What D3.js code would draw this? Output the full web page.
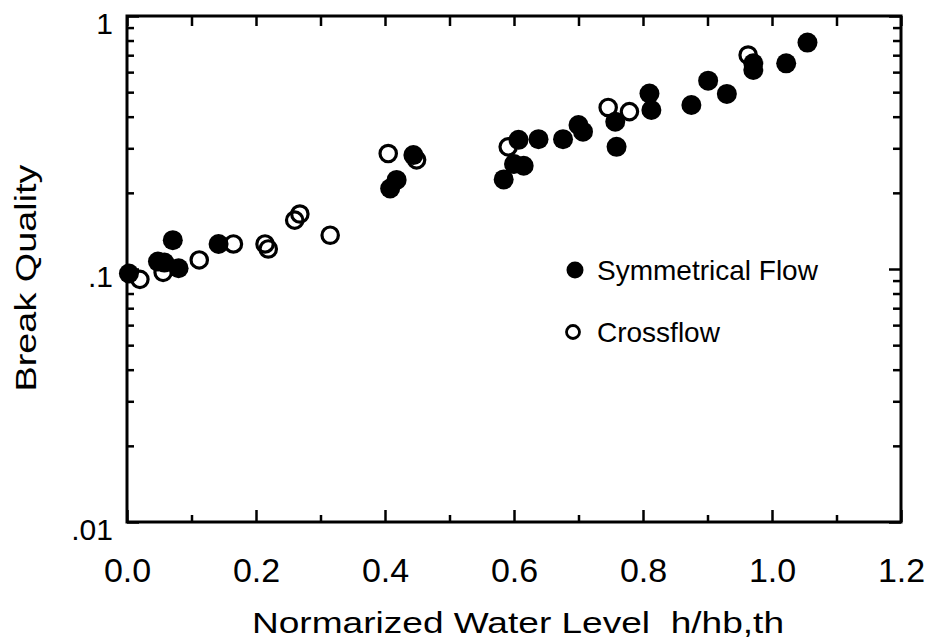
<!DOCTYPE html>
<html>
<head>
<meta charset="utf-8">
<script src="https://cdn.jsdelivr.net/npm/d3@7"></script>
<style>
  body { margin: 0; background: #fff; }
  svg { display: block; }
  text { font-family: "Liberation Sans", Arial, Helvetica, sans-serif; fill: #000; }
</style>
</head>
<body>
<div id="chart"></div>
<script>
// symmetrical flow (filled dots)
const symX = [0.003, 0.048, 0.058, 0.071, 0.080, 0.142, 0.408, 0.418, 0.444, 0.584, 0.600, 0.615,
              0.607, 0.638, 0.676, 0.700, 0.707, 0.757, 0.759, 0.810, 0.813, 0.875, 0.901, 0.930,
              0.971, 0.971, 1.022, 1.055];
const symY = [0.096, 0.107, 0.106, 0.130, 0.1007, 0.1256, 0.208, 0.225, 0.282, 0.226, 0.260, 0.256,
              0.324, 0.326, 0.326, 0.371, 0.349, 0.382, 0.304, 0.494, 0.425, 0.445, 0.555, 0.492,
              0.650, 0.612, 0.650, 0.785];

// crossflow (open dots)
const crossX = [0.020, 0.056, 0.112, 0.165, 0.214, 0.219, 0.260, 0.268, 0.315, 0.405, 0.449, 0.591,
                0.746, 0.779, 0.963];
const crossY = [0.091, 0.097, 0.1086, 0.1256, 0.1256, 0.120, 0.156, 0.165, 0.136, 0.286, 0.270, 0.304,
                0.435, 0.419, 0.701];

const xTicks = [0, 0.2, 0.4, 0.6, 0.8, 1.0, 1.2];
const xMinor = [0.1, 0.3, 0.5, 0.7, 0.9, 1.1];
const yTicks = [0.01, 0.1, 1];
const yTickLabels = ['.01', '.1', '1'];
const legendNames = ['Symmetrical Flow', 'Crossflow'];

const width = 927, height = 644;
const margin = { top: 16, left: 127, right: 26, bottom: 122 };

const svg = d3.select('#chart').append('svg')
  .attr('width', width)
  .attr('height', height);

const x = d3.scaleLinear()
  .domain([0, 1.2])
  .range([margin.left, width - margin.right]);

const y = d3.scaleLog()
  .domain([0.01, 1])
  .range([height - margin.bottom, margin.top]);

//minor ticks for log axis: 2..9 of each decade
const yMinor = [];
[0.01, 0.1].forEach(d => { for (let k = 2; k <= 9; k++) yMinor.push(d * k); });

function styleAxis(g){
  g.select('.domain').remove();
  g.selectAll('.tick line').attr('stroke', '#000').attr('stroke-width', 2.5);
}

//bottom axis with labels
svg.append('g')
  .attr('transform', `translate(0,${height - margin.bottom})`)
  .call(d3.axisBottom(x).tickValues(xTicks).tickSize(-12).tickPadding(36)
    .tickFormat(d3.format('.1f')))
  .call(styleAxis)
  .selectAll('text')
  .attr('font-size', 34)
  .attr('font-family', '"Liberation Sans", Arial, sans-serif');

svg.append('g')
  .attr('transform', `translate(0,${height - margin.bottom})`)
  .call(d3.axisBottom(x).tickValues(xMinor).tickSize(-7).tickFormat(''))
  .call(styleAxis);

//top axis
svg.append('g')
  .attr('transform', `translate(0,${margin.top})`)
  .call(d3.axisTop(x).tickValues(xTicks.concat(xMinor)).tickSize(-10).tickFormat(''))
  .call(styleAxis);

//left axis with labels (labels sit a little below their tick, as in the scan)
svg.append('g')
  .attr('transform', `translate(${margin.left},0)`)
  .call(d3.axisLeft(y).tickValues(yTicks).tickSize(-12).tickPadding(14)
    .tickFormat((d, i) => yTickLabels[i]))
  .call(styleAxis)
  .selectAll('text')
  .attr('y', 8)
  .attr('font-size', 30)
  .attr('font-family', '"Liberation Sans", Arial, sans-serif');

svg.append('g')
  .attr('transform', `translate(${margin.left},0)`)
  .call(d3.axisLeft(y).tickValues(yMinor).tickSize(-7).tickFormat(''))
  .call(styleAxis);

//right axis
svg.append('g')
  .attr('transform', `translate(${width - margin.right},0)`)
  .call(d3.axisRight(y).tickValues(yTicks).tickSize(-12).tickFormat(''))
  .call(styleAxis);

svg.append('g')
  .attr('transform', `translate(${width - margin.right},0)`)
  .call(d3.axisRight(y).tickValues(yMinor).tickSize(-8).tickFormat(''))
  .call(styleAxis);

//frame
svg.append('rect')
  .attr('x', margin.left)
  .attr('y', margin.top)
  .attr('width', width - margin.left - margin.right)
  .attr('height', height - margin.top - margin.bottom)
  .attr('fill', 'none')
  .attr('stroke', '#000')
  .attr('stroke-width', 3);

//crossflow points
svg.append('g').selectAll('circle')
  .data(crossX.map((d, i) => ({ x: d, y: crossY[i] })))
  .join('circle')
  .attr('cx', d => x(d.x))
  .attr('cy', d => y(d.y))
  .attr('r', 8.2)
  .attr('fill', 'none')
  .attr('stroke', '#000')
  .attr('stroke-width', 3.2);

//symmetrical flow points
svg.append('g').selectAll('circle')
  .data(symX.map((d, i) => ({ x: d, y: symY[i] })))
  .join('circle')
  .attr('cx', d => x(d.x))
  .attr('cy', d => y(d.y))
  .attr('r', 10)
  .attr('fill', '#000');

//legend
const legend = svg.append('g');
legend.append('circle').attr('cx', 575).attr('cy', 270).attr('r', 8.5).attr('fill', '#000');
legend.append('circle').attr('cx', 573).attr('cy', 332).attr('r', 6.5)
  .attr('fill', 'none').attr('stroke', '#000').attr('stroke-width', 2.8);
legend.selectAll('text')
  .data(legendNames)
  .join('text')
  .attr('x', 597)
  .attr('y', (d, i) => 280 + i * 62)
  .attr('font-size', 28)
  .text(d => d);

//axis titles
svg.append('text')
  .attr('x', 518)
  .attr('y', 633)
  .attr('text-anchor', 'middle')
  .attr('font-size', 30)
  .attr('textLength', 532)
  .attr('lengthAdjust', 'spacingAndGlyphs')
  .style('white-space', 'pre')
  .text('Normarized Water Level  h/hb,th');

svg.append('text')
  .attr('transform', 'translate(36,278) rotate(-90)')
  .attr('text-anchor', 'middle')
  .attr('font-size', 30)
  .attr('textLength', 227)
  .attr('lengthAdjust', 'spacingAndGlyphs')
  .text('Break Quality');
</script>
</body>
</html>
